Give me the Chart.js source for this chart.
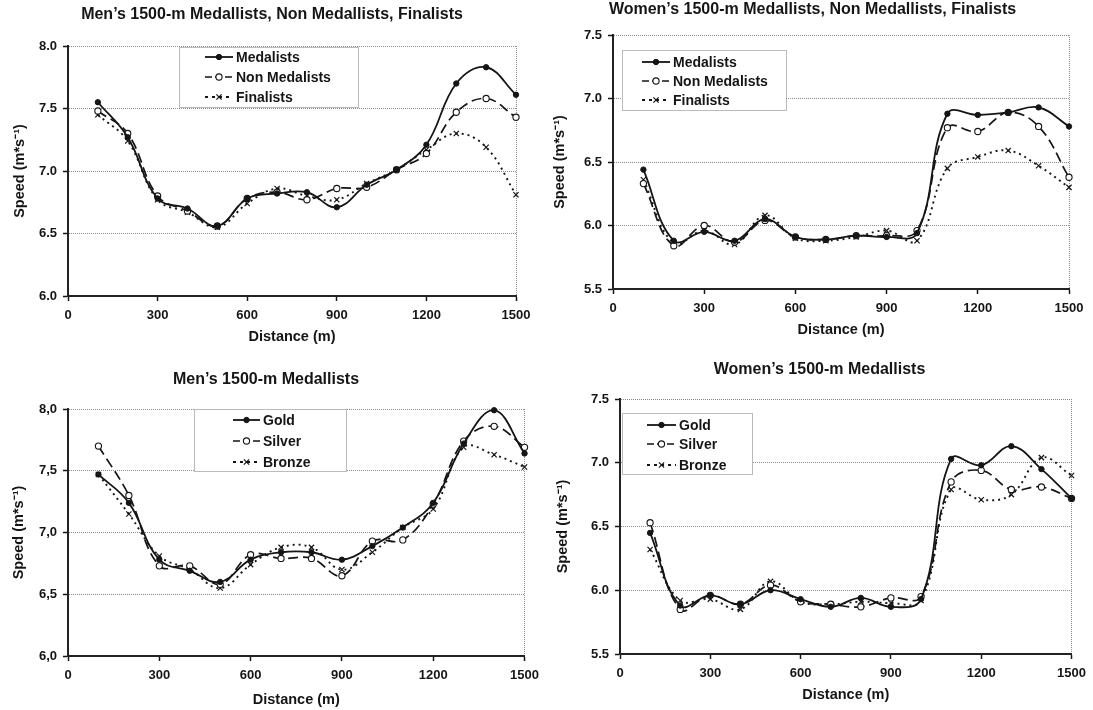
<!DOCTYPE html>
<html><head><meta charset="utf-8">
<script src="https://cdn.jsdelivr.net/npm/chart.js@4.4.0/dist/chart.umd.min.js"></script>
<style>
html,body{margin:0;padding:0;background:#fff;}
#wrap{position:relative;width:1093px;height:710px;background:#fff;}
canvas{position:absolute;}
</style></head><body>
<div id="wrap">
<canvas id="c1" width="546" height="355" style="left:0;top:0"></canvas>
<canvas id="c2" width="547" height="355" style="left:546px;top:0"></canvas>
<canvas id="c3" width="546" height="355" style="left:0;top:355px"></canvas>
<canvas id="c4" width="547" height="355" style="left:546px;top:355px"></canvas>
</div>
<script>
// ---------- data ----------
const distances = [100,200,300,400,500,600,700,800,900,1000,1100,1200,1300,1400,1500];
const xTickValues = [0,300,600,900,1200,1500];
const menYTicks = [6.0,6.5,7.0,7.5,8.0];
const womenYTicks = [5.5,6.0,6.5,7.0,7.5];

const groupLabels = ['Medalists','Non Medalists','Finalists'];
const medalLabels = ['Gold','Silver','Bronze'];

const menMedalists    = [7.55,7.27,6.78,6.70,6.56,6.78,6.82,6.83,6.71,6.89,7.01,7.21,7.70,7.83,7.61];
const menNonMedalists = [7.48,7.30,6.80,6.68,6.56,6.78,6.83,6.77,6.86,6.87,7.01,7.14,7.47,7.58,7.43];
const menFinalists    = [7.45,7.24,6.77,6.67,6.55,6.74,6.86,6.80,6.77,6.90,7.01,7.17,7.30,7.19,6.81];

const womenMedalists    = [6.44,5.88,5.95,5.88,6.05,5.91,5.89,5.92,5.91,5.94,6.88,6.87,6.89,6.93,6.78];
const womenNonMedalists = [6.33,5.84,6.00,5.87,6.04,5.91,5.89,5.92,5.92,5.96,6.77,6.74,6.89,6.78,6.38];
const womenFinalists    = [6.36,5.86,5.96,5.85,6.08,5.90,5.88,5.91,5.96,5.88,6.45,6.54,6.59,6.47,6.30];

const menGold   = [7.47,7.24,6.78,6.69,6.60,6.78,6.84,6.84,6.78,6.89,7.04,7.24,7.72,7.99,7.64];
const menSilver = [7.70,7.30,6.73,6.73,6.58,6.82,6.79,6.79,6.65,6.93,6.94,7.23,7.74,7.86,7.69];
const menBronze = [7.47,7.15,6.81,6.70,6.55,6.74,6.88,6.88,6.70,6.84,7.04,7.19,7.69,7.63,7.53];

const womenGold   = [6.45,5.88,5.96,5.89,6.00,5.93,5.87,5.94,5.87,5.93,7.03,6.98,7.13,6.95,6.72];
const womenSilver = [6.53,5.85,5.96,5.89,6.04,5.91,5.89,5.87,5.94,5.95,6.85,6.94,6.79,6.81,6.72];
const womenBronze = [6.32,5.92,5.93,5.85,6.07,5.91,5.89,5.91,5.90,5.92,6.79,6.71,6.75,7.04,6.90];

const titles = [
  'Men\u2019s 1500-m Medallists, Non Medallists, Finalists',
  'Women\u2019s 1500-m Medallists, Non Medallists, Finalists',
  'Men\u2019s 1500-m Medallists',
  'Women\u2019s 1500-m Medallists'
];
const xTitle = 'Distance (m)';
const yTitle = 'Speed (m*s\u207B\u00B9)';

// ---------- styles ----------
const FONT = "'Liberation Sans', Arial, sans-serif";
const INK = '#151515';
const TITLE_SIZE = 16, TICK_SIZE = 13, AXIS_SIZE = 14.5, LEGEND_SIZE = 14;
Chart.defaults.font.family = FONT;
Chart.defaults.color = INK;

const styles = [
  {borderColor:INK, borderWidth:1.8, borderDash:[], pointStyle:'circle', pointRadius:2.7,
   pointBackgroundColor:INK, pointBorderColor:INK, pointBorderWidth:1},
  {borderColor:INK, borderWidth:1.7, borderDash:[10,5], pointStyle:'circle', pointRadius:3.1,
   pointBackgroundColor:'#fff', pointBorderColor:INK, pointBorderWidth:1.1},
  {borderColor:INK, borderWidth:1.9, borderDash:[2,4], pointStyle:'crossRot', pointRadius:3.7,
   pointBackgroundColor:INK, pointBorderColor:INK, pointBorderWidth:1.2}
];

function makeDatasets(labels, series) {
  return series.map((vals, i) => Object.assign({
    label: labels[i],
    data: distances.map((d, k) => ({x: d, y: vals[k]})),
    tension: 0.4,
    fill: false,
    order: i,
    clip: 6,
    pointHoverRadius: 3
  }, styles[i]));
}

function drawMarker(ctx, ds, x, y) {
  ctx.save();
  ctx.setLineDash([]);
  ctx.lineWidth = ds.pointBorderWidth;
  ctx.strokeStyle = ds.pointBorderColor;
  const r = ds.pointRadius;
  if (ds.pointStyle === 'crossRot') {
    const o = r * Math.SQRT1_2;
    ctx.beginPath();
    ctx.moveTo(x - o, y - o); ctx.lineTo(x + o, y + o);
    ctx.moveTo(x - o, y + o); ctx.lineTo(x + o, y - o);
    ctx.stroke();
  } else {
    ctx.beginPath();
    ctx.arc(x, y, r, 0, Math.PI * 2);
    ctx.fillStyle = ds.pointBackgroundColor;
    ctx.fill();
    ctx.stroke();
  }
  ctx.restore();
}

const boxLegend = {
  id: 'boxLegend',
  afterDraw(chart, args, o) {
    const ctx = chart.ctx;
    ctx.save();
    ctx.fillStyle = '#fff';
    ctx.fillRect(o.box[0], o.box[1], o.box[2] - o.box[0], o.box[3] - o.box[1]);
    ctx.strokeStyle = '#777';
    ctx.lineWidth = 1;
    ctx.setLineDash([1, 1]);
    ctx.strokeRect(o.box[0] + 0.5, o.box[1] + 0.5, o.box[2] - o.box[0], o.box[3] - o.box[1]);
    chart.data.datasets.forEach((ds, i) => {
      const y = o.rows[i];
      ctx.save();
      ctx.strokeStyle = ds.borderColor;
      ctx.lineWidth = ds.borderWidth;
      ctx.setLineDash(ds.borderDash.length ? (ds.borderDash[0] > 5 ? [7, 3] : [3, 4]) : []);
      ctx.beginPath();
      ctx.moveTo(o.sample[0], y);
      ctx.lineTo(o.sample[1], y);
      ctx.stroke();
      ctx.restore();
      drawMarker(ctx, ds, (o.sample[0] + o.sample[1]) / 2, y);
      ctx.fillStyle = INK;
      ctx.font = 'bold ' + LEGEND_SIZE + 'px ' + FONT;
      ctx.textBaseline = 'middle';
      ctx.textAlign = 'left';
      ctx.fillText(ds.label, o.textX, y + 1);
    });
    ctx.restore();
  }
};

function makeChart(id, title, labels, series, yTicks, comma, g) {
  const W = 546, H = 355;
  const titleLH = TITLE_SIZE * 1.2;
  const axLH = AXIS_SIZE * 1.2;
  const tTop = Math.max(0, g.titleY - titleLH / 2);
  // left padding so that the full-width title sits near where the reference puts it
  const padL = Math.max(0, Math.min(g.L - 40, 2 * g.titleX - g.R));
  return new Chart(document.getElementById(id), {
    type: 'line',
    data: {datasets: makeDatasets(labels, series)},
    plugins: [boxLegend],
    options: {
      responsive: false,
      animation: false,
      devicePixelRatio: 1,
      layout: {padding: {left: padL, top: 0, bottom: 0, right: W - g.R}},
      plugins: {
        legend: {display: false},
        tooltip: {enabled: false},
        title: {
          display: true, text: title, color: INK,
          font: {size: TITLE_SIZE, weight: 'bold', family: FONT},
          padding: {top: tTop, bottom: g.T - tTop - titleLH}
        },
        boxLegend: g.legend
      },
      scales: {
        x: {
          type: 'linear', min: 0, max: 1500,
          afterBuildTicks: s => { s.ticks = xTickValues.map(v => ({value: v})); },
          afterFit: s => { s.height = H - g.B; },
          ticks: {
            color: INK, padding: 7, maxRotation: 0, autoSkip: false,
            font: {size: TICK_SIZE, weight: 'bold', family: FONT},
            callback: v => String(v)
          },
          grid: {
            drawOnChartArea: true, drawTicks: true, tickLength: 5,
            color: c => (c.tick && c.tick.value === 1500) ? '#8a8a8a' : 'rgba(0,0,0,0)',
            tickColor: INK, tickWidth: 1.5, lineWidth: 1
          },
          border: {display: true, color: '#222', width: 2, dash: [1, 1]},
          title: {
            display: true, text: xTitle, color: INK,
            font: {size: AXIS_SIZE, weight: 'bold', family: FONT},
            padding: {top: 0, bottom: H - axLH / 2 - g.xTitleY}
          }
        },
        y: {
          type: 'linear', min: yTicks[0], max: yTicks[yTicks.length - 1],
          afterBuildTicks: s => { s.ticks = yTicks.map(v => ({value: v})); },
          afterFit: s => { s.width = g.L - padL; },
          ticks: {
            color: INK, padding: 6,
            font: {size: TICK_SIZE, weight: 'bold', family: FONT},
            callback: v => comma ? Number(v).toFixed(1).replace('.', ',') : Number(v).toFixed(1)
          },
          grid: {
            drawOnChartArea: true, drawTicks: true, tickLength: 5,
            color: '#8a8a8a', tickColor: INK, tickWidth: 1.5, lineWidth: 1
          },
          border: {display: true, color: '#222', width: 2, dash: [1, 1]},
          title: {
            display: true, text: yTitle, color: INK,
            font: {size: AXIS_SIZE, weight: 'bold', family: FONT},
            padding: {top: g.yTitleX - padL - axLH / 2, bottom: 0}
          }
        }
      }
    }
  });
}

makeChart('c1', titles[0], groupLabels, [menMedalists, menNonMedalists, menFinalists], menYTicks, false,
  {L: 68, R: 516, T: 46, B: 296, titleX: 279, titleY: 15, yTitleX: 20, xTitleY: 337,
   legend: {box: [179, 47, 358, 107], sample: [205, 233], textX: 236, rows: [57, 77, 97]}});
makeChart('c2', titles[1], groupLabels, [womenMedalists, womenNonMedalists, womenFinalists], womenYTicks, false,
  {L: 67, R: 522, T: 35, B: 289, titleX: 266, titleY: 9.6, yTitleX: 14, xTitleY: 330,
   legend: {box: [76, 50, 240, 110], sample: [96, 124], textX: 127, rows: [62, 81, 100]}});
makeChart('c3', titles[2], medalLabels, [menGold, menSilver, menBronze], menYTicks, true,
  {L: 68, R: 527, T: 54, B: 301, titleX: 266, titleY: 25, yTitleX: 19, xTitleY: 345,
   legend: {box: [194, 54, 346, 116], sample: [233, 260], textX: 263, rows: [65, 86, 107]}});
makeChart('c4', titles[3], medalLabels, [womenGold, womenSilver, womenBronze], womenYTicks, false,
  {L: 74, R: 526, T: 44, B: 299, titleX: 273, titleY: 15, yTitleX: 17, xTitleY: 340,
   legend: {box: [76, 58, 206, 119], sample: [101, 130], textX: 133, rows: [70, 89, 110]}});
</script>
</body></html>
